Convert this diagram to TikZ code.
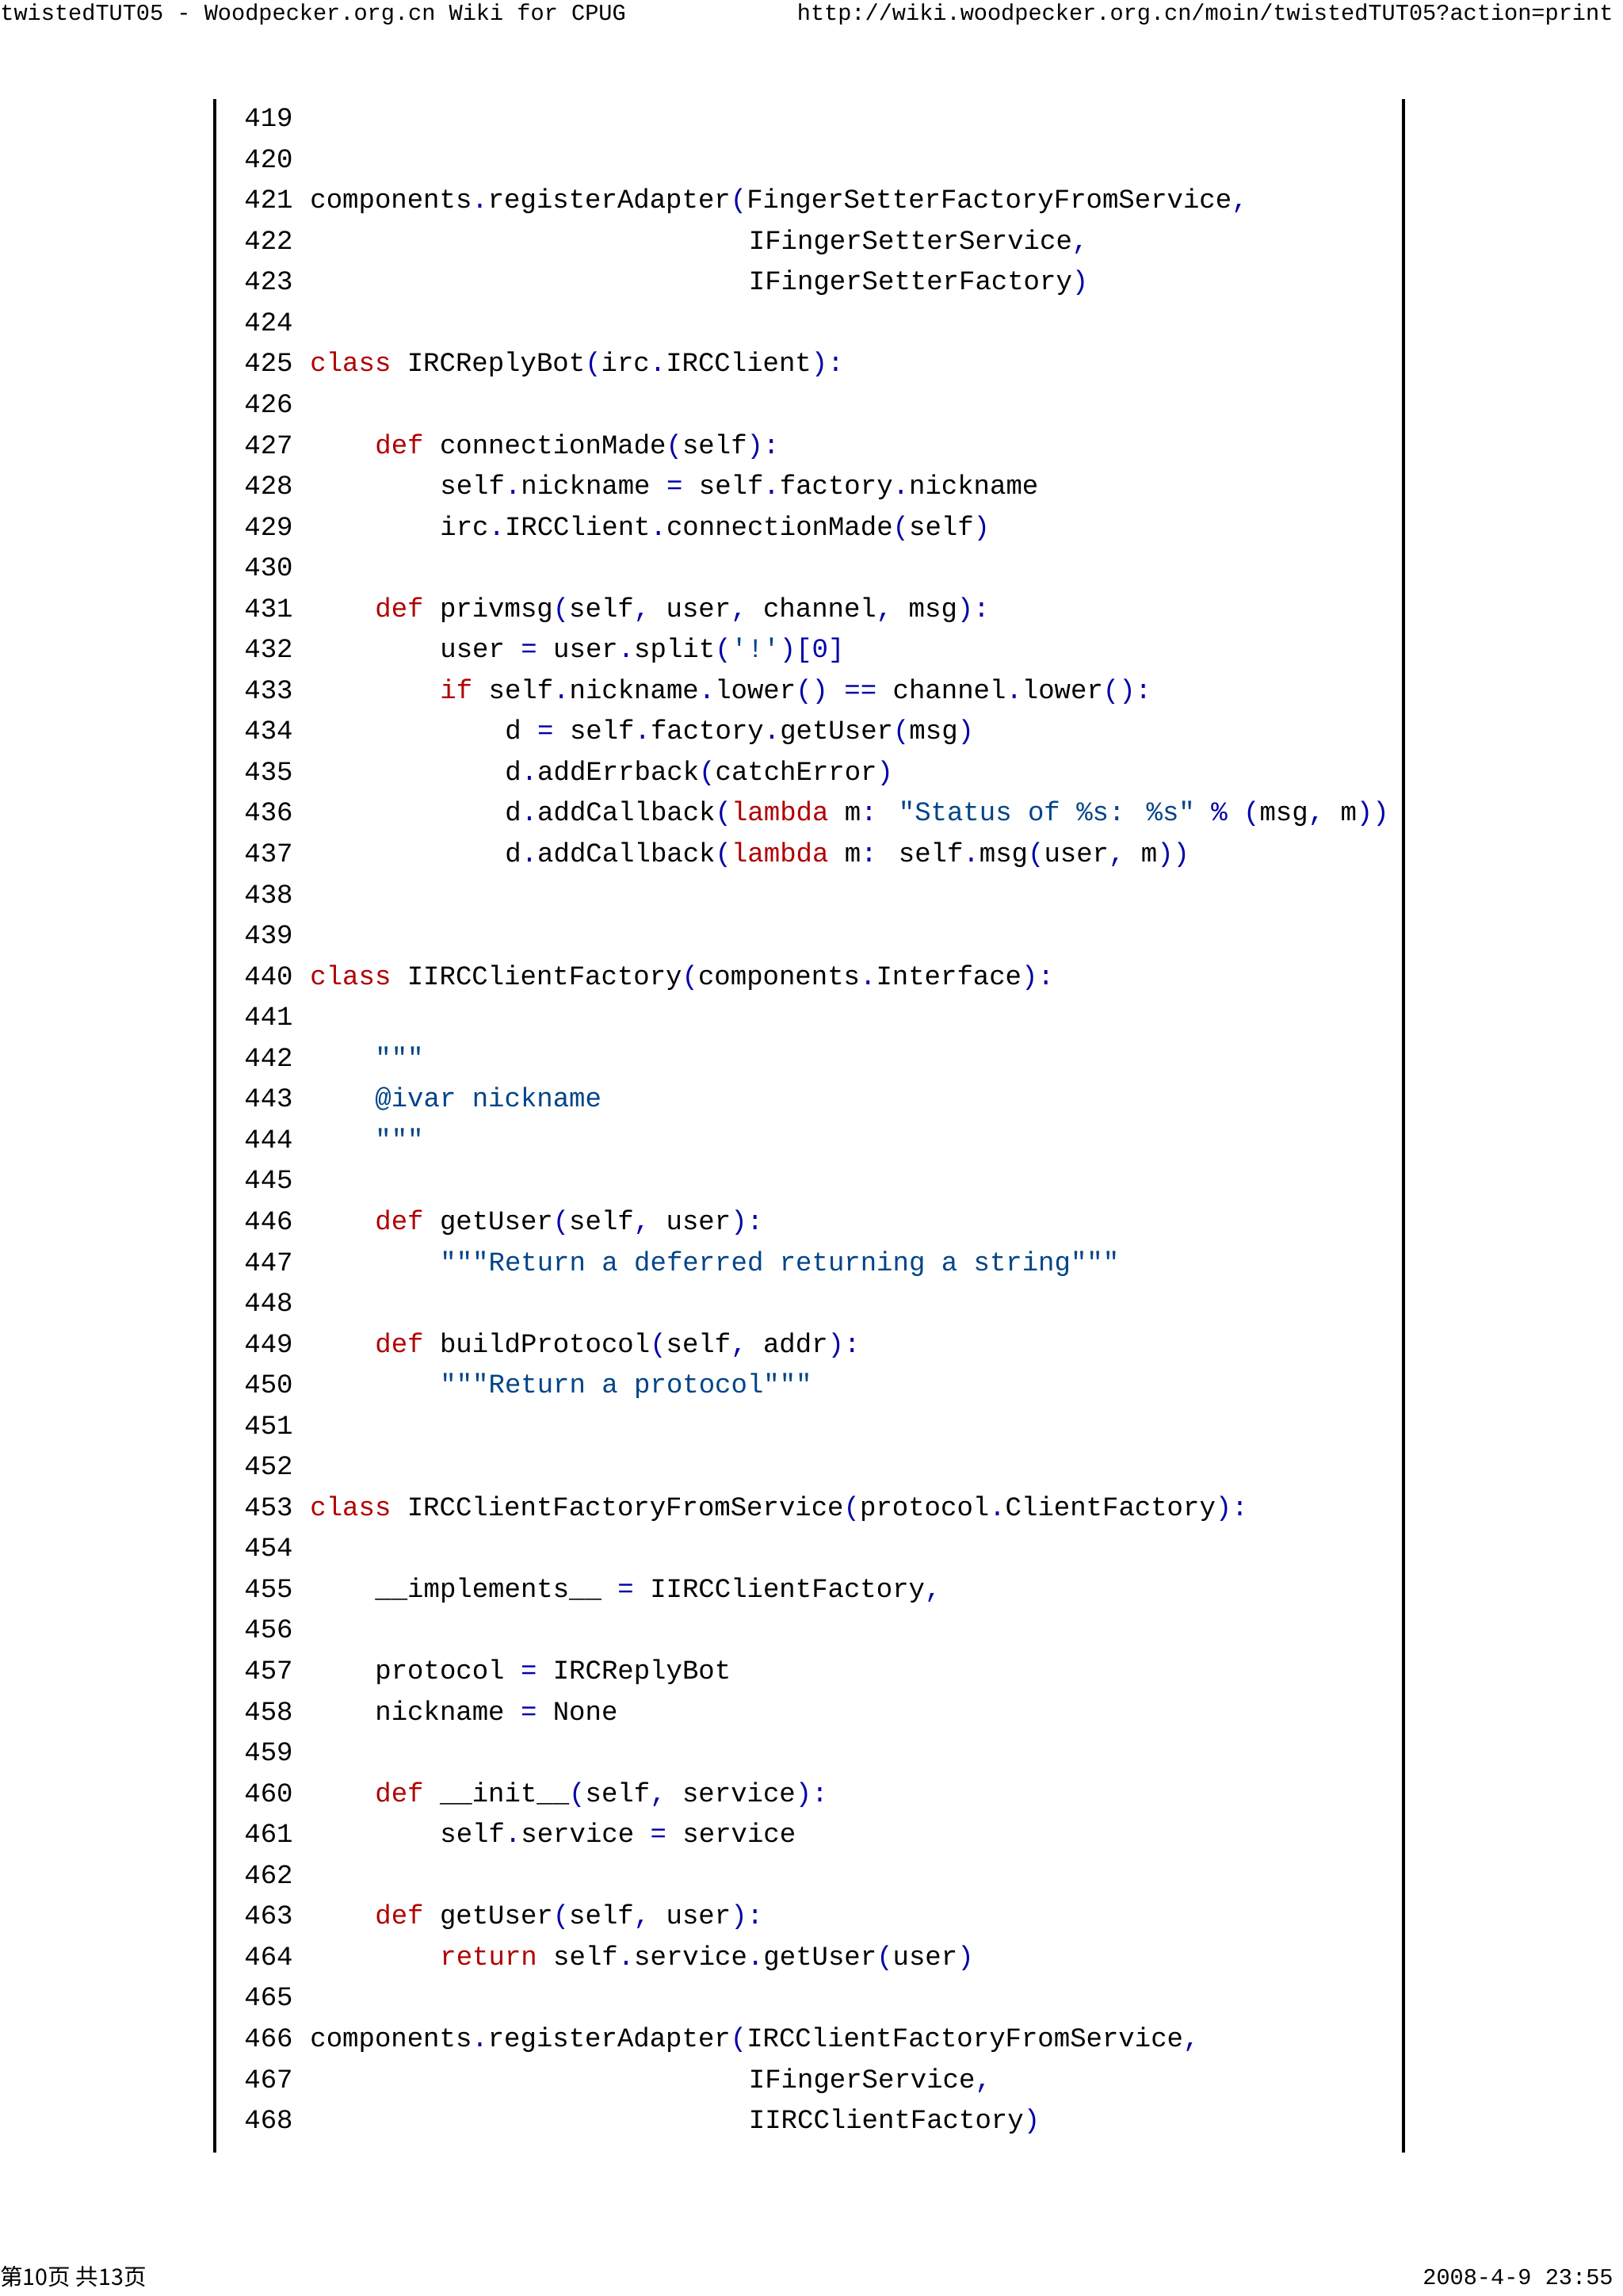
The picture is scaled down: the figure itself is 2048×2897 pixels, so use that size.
\documentclass[tikz,border=0pt]{standalone}
\usepackage{fontspec}
\usepackage{xcolor}
\newfontfamily\codefont{Liberation Mono}
\newfontfamily\cjkfont{Noto Sans CJK SC}
\definecolor{kwc}{HTML}{B00000}
\definecolor{puc}{HTML}{0000A8}
\definecolor{stc}{HTML}{004488}
\newcommand\ckw[1]{\textcolor{kwc}{#1}}
\newcommand\cpu[1]{\textcolor{puc}{#1}}
\newcommand\cst[1]{\textcolor{stc}{#1}}
\newcommand\codeln[3]{\node[codeline] (c#1) at ({391+#2*20.5},{147.6+(#1-419)*51.55+12}) {#3};}
\begin{document}
\begin{tikzpicture}[x=0.5pt,y=-0.5pt,
  codeline/.style={anchor=base west,inner sep=0pt,font=\codefont\fontsize{17pt}{20pt}\selectfont},
  numline/.style={anchor=base west,inner sep=0pt,font=\codefont\fontsize{17pt}{20pt}\selectfont},
  hdr/.style={inner sep=0pt,font=\codefont\fontsize{14.3pt}{17pt}\selectfont},
  rule/.style={line width=2.2pt,black}]
\useasboundingbox (0,0) rectangle (2048,2897);
\node[hdr,anchor=west] (htitle) at (0,18) {twistedTUT05 - Woodpecker.org.cn Wiki for CPUG};
\node[hdr,anchor=east] (hurl) at (2036,18) {http://wiki.woodpecker.org.cn/moin/twistedTUT05?action=print};
\node[hdr,anchor=west] (fpage) at (0,2873) {\cjkfont 第10页\ 共13页};
\node[hdr,anchor=east] (fdate) at (2036,2873) {2008-4-9 23:55};
\coordinate (lt) at (271,125); \coordinate (lb) at (271,2716);
\coordinate (rt) at (1771,125); \coordinate (rb) at (1771,2716);
\draw[rule] (lt) -- (lb);
\draw[rule] (rt) -- (rb);
\foreach \n in {419,...,468}{
  \node[numline] (n\n) at (308,{147.6+(\n-419)*51.55+12}) {\n};
}
\codeln{421}{0}{components\cpu{.}registerAdapter\cpu{(}FingerSetterFactoryFromService\cpu{,}}
\codeln{422}{27}{IFingerSetterService\cpu{,}}
\codeln{423}{27}{IFingerSetterFactory\cpu{)}}
\codeln{425}{0}{\ckw{class} IRCReplyBot\cpu{(}irc\cpu{.}IRCClient\cpu{):}}
\codeln{427}{4}{\ckw{def} connectionMade\cpu{(}self\cpu{):}}
\codeln{428}{8}{self\cpu{.}nickname \cpu{=} self\cpu{.}factory\cpu{.}nickname}
\codeln{429}{8}{irc\cpu{.}IRCClient\cpu{.}connectionMade\cpu{(}self\cpu{)}}
\codeln{431}{4}{\ckw{def} privmsg\cpu{(}self\cpu{,} user\cpu{,} channel\cpu{,} msg\cpu{):}}
\codeln{432}{8}{user \cpu{=} user\cpu{.}split\cpu{(}\cst{'!'}\cpu{)[0]}}
\codeln{433}{8}{\ckw{if} self\cpu{.}nickname\cpu{.}lower\cpu{()} \cpu{==} channel\cpu{.}lower\cpu{():}}
\codeln{434}{12}{d \cpu{=} self\cpu{.}factory\cpu{.}getUser\cpu{(}msg\cpu{)}}
\codeln{435}{12}{d\cpu{.}addErrback\cpu{(}catchError\cpu{)}}
\codeln{436}{12}{d\cpu{.}addCallback\cpu{(}\ckw{lambda} m\cpu{:} \cst{"Status of \%s: \%s"} \cpu{\%} \cpu{(}msg\cpu{,} m\cpu{))}}
\codeln{437}{12}{d\cpu{.}addCallback\cpu{(}\ckw{lambda} m\cpu{:} self\cpu{.}msg\cpu{(}user\cpu{,} m\cpu{))}}
\codeln{440}{0}{\ckw{class} IIRCClientFactory\cpu{(}components\cpu{.}Interface\cpu{):}}
\codeln{442}{4}{\cst{"""}}
\codeln{443}{4}{\cst{@ivar nickname}}
\codeln{444}{4}{\cst{"""}}
\codeln{446}{4}{\ckw{def} getUser\cpu{(}self\cpu{,} user\cpu{):}}
\codeln{447}{8}{\cst{"""Return a deferred returning a string"""}}
\codeln{449}{4}{\ckw{def} buildProtocol\cpu{(}self\cpu{,} addr\cpu{):}}
\codeln{450}{8}{\cst{"""Return a protocol"""}}
\codeln{453}{0}{\ckw{class} IRCClientFactoryFromService\cpu{(}protocol\cpu{.}ClientFactory\cpu{):}}
\codeln{455}{4}{\_\_implements\_\_ \cpu{=} IIRCClientFactory\cpu{,}}
\codeln{457}{4}{protocol \cpu{=} IRCReplyBot}
\codeln{458}{4}{nickname \cpu{=} None}
\codeln{460}{4}{\ckw{def} \_\_init\_\_\cpu{(}self\cpu{,} service\cpu{):}}
\codeln{461}{8}{self\cpu{.}service \cpu{=} service}
\codeln{463}{4}{\ckw{def} getUser\cpu{(}self\cpu{,} user\cpu{):}}
\codeln{464}{8}{\ckw{return} self\cpu{.}service\cpu{.}getUser\cpu{(}user\cpu{)}}
\codeln{466}{0}{components\cpu{.}registerAdapter\cpu{(}IRCClientFactoryFromService\cpu{,}}
\codeln{467}{27}{IFingerService\cpu{,}}
\codeln{468}{27}{IIRCClientFactory\cpu{)}}
\end{tikzpicture}
\end{document}
